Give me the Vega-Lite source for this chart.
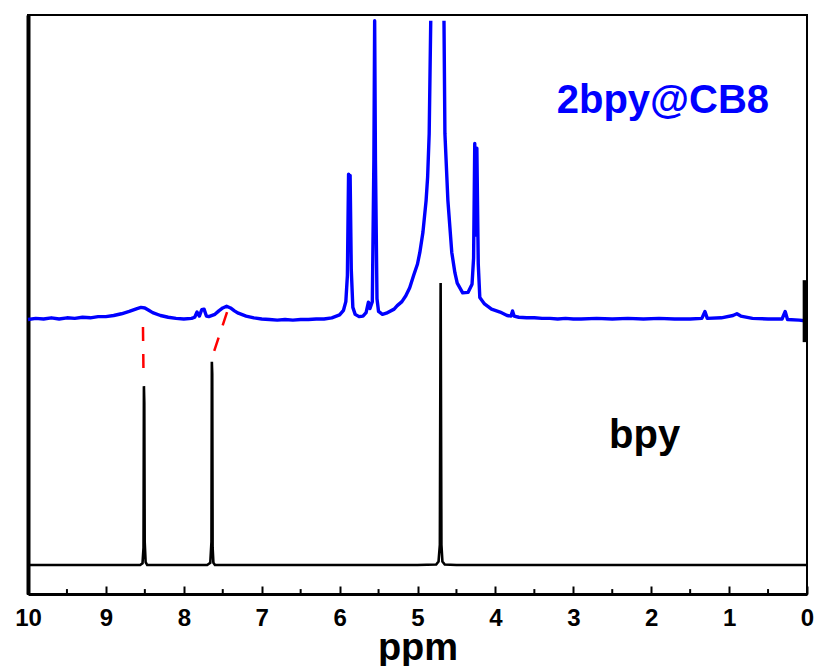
{
  "$schema": "https://vega.github.io/schema/vega-lite/v6.json",
  "width": 779,
  "height": 579,
  "autosize": "none",
  "padding": {"left": 28, "top": 15, "right": 11, "bottom": 72},
  "background": "white",
  "config": {
    "view": {"stroke": "black", "strokeWidth": 2},
    "font": "Liberation Sans"
  },
  "datasets": {
    "blue": [
      {"ppm": 10.0, "v": 47.4, "seg": "a"}, {"ppm": 9.9, "v": 47.6, "seg": "a"}, {"ppm": 9.8, "v": 47.5, "seg": "a"},
      {"ppm": 9.7, "v": 47.7, "seg": "a"}, {"ppm": 9.6, "v": 47.5, "seg": "a"}, {"ppm": 9.5, "v": 47.7, "seg": "a"},
      {"ppm": 9.4, "v": 47.6, "seg": "a"}, {"ppm": 9.3, "v": 47.8, "seg": "a"}, {"ppm": 9.2, "v": 47.7, "seg": "a"},
      {"ppm": 9.1, "v": 47.9, "seg": "a"}, {"ppm": 9.0, "v": 47.9, "seg": "a"}, {"ppm": 8.9, "v": 48.1, "seg": "a"},
      {"ppm": 8.8, "v": 48.4, "seg": "a"}, {"ppm": 8.7, "v": 48.8, "seg": "a"}, {"ppm": 8.6, "v": 49.3, "seg": "a"},
      {"ppm": 8.55, "v": 49.5, "seg": "a"}, {"ppm": 8.5, "v": 49.4, "seg": "a"}, {"ppm": 8.45, "v": 49.0, "seg": "a"},
      {"ppm": 8.4, "v": 48.6, "seg": "a"}, {"ppm": 8.3, "v": 48.1, "seg": "a"}, {"ppm": 8.2, "v": 47.8, "seg": "a"},
      {"ppm": 8.1, "v": 47.6, "seg": "a"}, {"ppm": 8.0, "v": 47.5, "seg": "a"}, {"ppm": 7.9, "v": 47.6, "seg": "a"},
      {"ppm": 7.86, "v": 47.8, "seg": "a"}, {"ppm": 7.83, "v": 48.7, "seg": "a"}, {"ppm": 7.8, "v": 48.0, "seg": "a"},
      {"ppm": 7.77, "v": 49.1, "seg": "a"}, {"ppm": 7.74, "v": 49.2, "seg": "a"}, {"ppm": 7.71, "v": 48.0, "seg": "a"},
      {"ppm": 7.68, "v": 47.9, "seg": "a"}, {"ppm": 7.6, "v": 48.3, "seg": "a"}, {"ppm": 7.55, "v": 48.9, "seg": "a"},
      {"ppm": 7.5, "v": 49.4, "seg": "a"}, {"ppm": 7.45, "v": 49.7, "seg": "a"}, {"ppm": 7.4, "v": 49.4, "seg": "a"},
      {"ppm": 7.35, "v": 48.9, "seg": "a"}, {"ppm": 7.3, "v": 48.5, "seg": "a"}, {"ppm": 7.2, "v": 48.0, "seg": "a"},
      {"ppm": 7.1, "v": 47.7, "seg": "a"}, {"ppm": 7.0, "v": 47.5, "seg": "a"}, {"ppm": 6.9, "v": 47.4, "seg": "a"},
      {"ppm": 6.8, "v": 47.3, "seg": "a"}, {"ppm": 6.7, "v": 47.4, "seg": "a"}, {"ppm": 6.6, "v": 47.3, "seg": "a"},
      {"ppm": 6.5, "v": 47.4, "seg": "a"}, {"ppm": 6.4, "v": 47.4, "seg": "a"}, {"ppm": 6.3, "v": 47.5, "seg": "a"},
      {"ppm": 6.2, "v": 47.5, "seg": "a"}, {"ppm": 6.1, "v": 47.7, "seg": "a"}, {"ppm": 6.0, "v": 48.2, "seg": "a"},
      {"ppm": 5.95, "v": 49.0, "seg": "a"}, {"ppm": 5.92, "v": 50.5, "seg": "a"}, {"ppm": 5.9, "v": 55.0, "seg": "a"},
      {"ppm": 5.885, "v": 72.5, "seg": "a"}, {"ppm": 5.875, "v": 62.0, "seg": "a"}, {"ppm": 5.865, "v": 72.3, "seg": "a"},
      {"ppm": 5.85, "v": 56.0, "seg": "a"}, {"ppm": 5.83, "v": 49.5, "seg": "a"}, {"ppm": 5.8, "v": 48.3, "seg": "a"},
      {"ppm": 5.75, "v": 47.9, "seg": "a"}, {"ppm": 5.7, "v": 48.0, "seg": "a"}, {"ppm": 5.66, "v": 48.6, "seg": "a"},
      {"ppm": 5.63, "v": 50.4, "seg": "a"}, {"ppm": 5.61, "v": 49.3, "seg": "a"}, {"ppm": 5.58, "v": 50.5, "seg": "a"},
      {"ppm": 5.56, "v": 75.0, "seg": "a"}, {"ppm": 5.55, "v": 99.0, "seg": "a"}, {"ppm": 5.54, "v": 75.0, "seg": "a"},
      {"ppm": 5.52, "v": 51.0, "seg": "a"}, {"ppm": 5.5, "v": 48.8, "seg": "a"}, {"ppm": 5.45, "v": 48.3, "seg": "a"},
      {"ppm": 5.4, "v": 48.5, "seg": "a"}, {"ppm": 5.3, "v": 49.2, "seg": "a"}, {"ppm": 5.26, "v": 49.8, "seg": "a"},
      {"ppm": 5.2, "v": 50.5, "seg": "a"}, {"ppm": 5.15, "v": 51.5, "seg": "a"}, {"ppm": 5.1, "v": 52.9, "seg": "a"},
      {"ppm": 5.05, "v": 55.0, "seg": "a"}, {"ppm": 5.0, "v": 57.0, "seg": "a"}, {"ppm": 4.97, "v": 59.0, "seg": "a"},
      {"ppm": 4.93, "v": 62.5, "seg": "a"}, {"ppm": 4.89, "v": 67.9, "seg": "a"}, {"ppm": 4.87, "v": 72.0, "seg": "a"},
      {"ppm": 4.85, "v": 79.5, "seg": "a"}, {"ppm": 4.83, "v": 99.0, "seg": "a"},
      {"ppm": 4.66, "v": 99.0, "seg": "b"}, {"ppm": 4.648, "v": 79.5, "seg": "b"}, {"ppm": 4.61, "v": 68.0, "seg": "b"},
      {"ppm": 4.56, "v": 59.0, "seg": "b"}, {"ppm": 4.52, "v": 55.5, "seg": "b"}, {"ppm": 4.49, "v": 53.7, "seg": "b"},
      {"ppm": 4.42, "v": 52.0, "seg": "b"}, {"ppm": 4.35, "v": 52.1, "seg": "b"}, {"ppm": 4.3, "v": 53.5, "seg": "b"},
      {"ppm": 4.28, "v": 58.0, "seg": "b"}, {"ppm": 4.265, "v": 77.8, "seg": "b"}, {"ppm": 4.25, "v": 62.0, "seg": "b"},
      {"ppm": 4.238, "v": 77.0, "seg": "b"}, {"ppm": 4.22, "v": 57.0, "seg": "b"}, {"ppm": 4.2, "v": 51.2, "seg": "b"},
      {"ppm": 4.14, "v": 50.1, "seg": "b"}, {"ppm": 4.05, "v": 49.2, "seg": "b"}, {"ppm": 3.94, "v": 48.7, "seg": "b"},
      {"ppm": 3.85, "v": 48.1, "seg": "b"}, {"ppm": 3.8, "v": 48.0, "seg": "b"}, {"ppm": 3.78, "v": 48.9, "seg": "b"},
      {"ppm": 3.76, "v": 48.0, "seg": "b"}, {"ppm": 3.7, "v": 47.8, "seg": "b"}, {"ppm": 3.6, "v": 47.7, "seg": "b"},
      {"ppm": 3.5, "v": 47.7, "seg": "b"}, {"ppm": 3.4, "v": 47.6, "seg": "b"}, {"ppm": 3.3, "v": 47.6, "seg": "b"},
      {"ppm": 3.2, "v": 47.5, "seg": "b"}, {"ppm": 3.1, "v": 47.6, "seg": "b"}, {"ppm": 3.0, "v": 47.5, "seg": "b"},
      {"ppm": 2.9, "v": 47.5, "seg": "b"}, {"ppm": 2.7, "v": 47.6, "seg": "b"}, {"ppm": 2.5, "v": 47.5, "seg": "b"},
      {"ppm": 2.3, "v": 47.6, "seg": "b"}, {"ppm": 2.1, "v": 47.5, "seg": "b"}, {"ppm": 1.9, "v": 47.6, "seg": "b"},
      {"ppm": 1.7, "v": 47.5, "seg": "b"}, {"ppm": 1.5, "v": 47.5, "seg": "b"}, {"ppm": 1.35, "v": 47.6, "seg": "b"},
      {"ppm": 1.31, "v": 48.8, "seg": "b"}, {"ppm": 1.28, "v": 47.6, "seg": "b"}, {"ppm": 1.1, "v": 47.7, "seg": "b"},
      {"ppm": 0.95, "v": 48.1, "seg": "b"}, {"ppm": 0.9, "v": 48.4, "seg": "b"}, {"ppm": 0.85, "v": 48.0, "seg": "b"},
      {"ppm": 0.7, "v": 47.6, "seg": "b"}, {"ppm": 0.5, "v": 47.5, "seg": "b"}, {"ppm": 0.32, "v": 47.5, "seg": "b"},
      {"ppm": 0.28, "v": 48.8, "seg": "b"}, {"ppm": 0.25, "v": 47.4, "seg": "b"}, {"ppm": 0.1, "v": 47.3, "seg": "b"},
      {"ppm": 0.03, "v": 47.2, "seg": "b"}
    ],
    "black": [
      {"ppm": 10.0, "v": 5.0}, {"ppm": 9.5, "v": 5.0}, {"ppm": 9.0, "v": 5.0}, {"ppm": 8.7, "v": 5.0},
      {"ppm": 8.56, "v": 5.0}, {"ppm": 8.53, "v": 5.3}, {"ppm": 8.517, "v": 8.0}, {"ppm": 8.512, "v": 35.9},
      {"ppm": 8.507, "v": 33.0}, {"ppm": 8.502, "v": 9.0}, {"ppm": 8.49, "v": 5.5}, {"ppm": 8.47, "v": 5.0},
      {"ppm": 8.3, "v": 5.0}, {"ppm": 8.0, "v": 5.0}, {"ppm": 7.7, "v": 5.0}, {"ppm": 7.66, "v": 5.4},
      {"ppm": 7.645, "v": 9.0}, {"ppm": 7.64, "v": 40.1}, {"ppm": 7.635, "v": 38.0}, {"ppm": 7.63, "v": 8.0},
      {"ppm": 7.62, "v": 5.4}, {"ppm": 7.6, "v": 5.0}, {"ppm": 7.0, "v": 5.0}, {"ppm": 6.0, "v": 5.0},
      {"ppm": 5.0, "v": 5.0}, {"ppm": 4.76, "v": 5.1}, {"ppm": 4.73, "v": 5.6}, {"ppm": 4.713, "v": 8.5},
      {"ppm": 4.703, "v": 53.7}, {"ppm": 4.693, "v": 8.5}, {"ppm": 4.68, "v": 5.6}, {"ppm": 4.65, "v": 5.1},
      {"ppm": 4.5, "v": 5.0}, {"ppm": 3.0, "v": 5.0}, {"ppm": 2.0, "v": 5.0}, {"ppm": 1.0, "v": 5.0},
      {"ppm": 0.0, "v": 5.0}
    ],
    "guides": [
      {"x1": 8.524, "y1": 46.1, "x2": 8.518, "y2": 38.7},
      {"x1": 7.445, "y1": 48.7, "x2": 7.638, "y2": 40.8}
    ],
    "ref": [{"ppm": 0.03, "lo": 43.5, "hi": 54.2}],
    "minor": [
      {"ppm": 9.5}, {"ppm": 8.5}, {"ppm": 7.5}, {"ppm": 6.5}, {"ppm": 5.5},
      {"ppm": 4.5}, {"ppm": 3.5}, {"ppm": 2.5}, {"ppm": 1.5}, {"ppm": 0.5}
    ],
    "labels": [
      {"ppm": 1.85, "v": 83.1, "text": "2bpy@CB8", "who": "complex"},
      {"ppm": 2.085, "v": 25.2, "text": "bpy", "who": "free"}
    ]
  },
  "encoding": {
    "x": {
      "type": "quantitative",
      "scale": {"domain": [0, 10], "reverse": true, "nice": false, "zero": false}
    },
    "y": {
      "type": "quantitative",
      "scale": {"domain": [0, 100], "nice": false, "zero": false}
    }
  },
  "layer": [
    {
      "data": {"name": "blue"},
      "mark": {"type": "line", "color": "#0000ff", "strokeWidth": 3.4, "strokeJoin": "round"},
      "encoding": {
        "x": {
          "field": "ppm", "type": "quantitative",
          "axis": {
            "values": [0, 1, 2, 3, 4, 5, 6, 7, 8, 9, 10],
            "format": "d",
            "grid": false,
            "domainColor": "black",
            "domainWidth": 3,
            "tickColor": "black",
            "tickWidth": 2,
            "tickSize": -8,
            "labelPadding": 20,
            "labelFont": "Liberation Sans",
            "labelFontWeight": "bold",
            "labelFontSize": 24,
            "labelColor": "black",
            "labelFlush": false,
            "title": "ppm",
            "titleFont": "Liberation Sans",
            "titleFontWeight": "bold",
            "titleFontSize": 38,
            "titleColor": "black",
            "titlePadding": -1
          }
        },
        "y": {
          "field": "v", "type": "quantitative",
          "axis": {
            "title": null,
            "labels": false,
            "ticks": false,
            "grid": false,
            "domainColor": "black",
            "domainWidth": 4
          }
        },
        "detail": {"field": "seg"}
      }
    },
    {
      "data": {"name": "black"},
      "mark": {"type": "line", "color": "black", "strokeWidth": 2.6},
      "encoding": {
        "x": {"field": "ppm", "type": "quantitative"},
        "y": {"field": "v", "type": "quantitative"}
      }
    },
    {
      "data": {"name": "guides"},
      "mark": {"type": "rule", "color": "#ff0000", "strokeWidth": 2.5, "strokeDash": [14, 13]},
      "encoding": {
        "x": {"field": "x1", "type": "quantitative"},
        "y": {"field": "y1", "type": "quantitative"},
        "x2": {"field": "x2"},
        "y2": {"field": "y2"}
      }
    },
    {
      "data": {"name": "ref"},
      "mark": {"type": "rule", "color": "black", "strokeWidth": 4},
      "encoding": {
        "x": {"field": "ppm", "type": "quantitative"},
        "y": {"field": "lo", "type": "quantitative"},
        "y2": {"field": "hi"}
      }
    },
    {
      "data": {"name": "minor"},
      "mark": {"type": "rule", "color": "black", "strokeWidth": 2},
      "encoding": {
        "x": {"field": "ppm", "type": "quantitative"},
        "y": {"datum": 0},
        "y2": {"datum": 0.85}
      }
    },
    {
      "data": {"name": "labels"},
      "mark": {"type": "text", "font": "Liberation Sans", "fontWeight": "bold", "baseline": "alphabetic", "align": "center"},
      "encoding": {
        "x": {"field": "ppm", "type": "quantitative"},
        "y": {"field": "v", "type": "quantitative"},
        "text": {"field": "text"},
        "color": {"field": "who", "type": "nominal", "scale": {"domain": ["complex", "free"], "range": ["#0000ff", "black"]}, "legend": null},
        "size": {"field": "who", "type": "nominal", "scale": {"domain": ["complex", "free"], "range": [40, 40]}, "legend": null}
      }
    }
  ]
}
